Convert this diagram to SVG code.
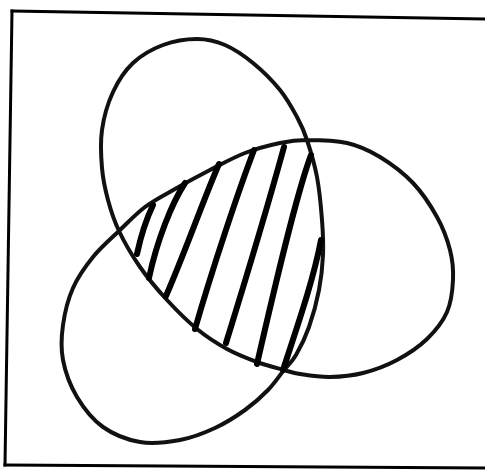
<svg xmlns="http://www.w3.org/2000/svg" width="485" height="472" viewBox="0 0 485 472">
  <style>
    .frame { fill: none; stroke: #000; stroke-width: 3; stroke-linecap: square; }
    .knot { fill: none; stroke: #111; stroke-width: 4; stroke-linejoin: round; }
    .hatch { fill: none; stroke: #000; stroke-width: 6; stroke-linecap: round; }
  </style>
  <rect x="0" y="0" width="485" height="472" fill="#fff"/>
  <g id="frame">
    <path class="frame" d="M12,11 L485,19"/>
    <path class="frame" d="M12,11 L5,465"/>
    <path class="frame" d="M5,465 L485,468"/>
  </g>
  <g id="trefoil">
    <path class="knot" d="M119,231 C113.7,219.8 110.8,210.5 108,200 S103,179.7 102,168 S100.2,142.7 102,130 S107.8,103.2 113,92 S124.7,70.8 133,63 S152.3,49 163,45 S186.7,39 197,39 S215.7,41 225,45 S243.8,55.5 253,63 S272.7,81 280,90 S292.5,108.7 297,117 S303.7,130 307,140 S314.5,163.7 317,177 S321,207 322,220 S323.5,243.3 323,255 S321.3,278 319,290 S312.8,316.2 309,327 S300.2,347.8 296,355 S288.7,364.2 284,370 S274.5,383.3 268,390 S253.8,403.7 245,410 S225.8,423 215,428 S192.5,437.7 180,440 S152.8,444.2 140,442 S113.5,434.5 103,427 S83.7,408.2 77,397 S65.3,372 63,360 S61.3,337 63,325 S68,299.3 73,288 S85.3,266.5 93,257 S110.3,239.3 119,231 S135.7,214 145,207 S164.2,195.2 175,189 S198.3,176 210,170 S233.3,157.5 245,153 S269.7,145.2 280,143 S295.8,140 307,140 S334.8,140.2 347,143 S369,150.3 380,157 S403.5,173 413,183 S430.8,205.8 437,217 S447.3,239.5 450,250 S453.5,269.7 453,280 S451.3,302.2 447,312 S435.3,331 427,339 S407.7,354.3 397,360 S374.2,370.2 363,373 S340.5,376.8 330,377 S307.7,375.2 300,374 S291.2,372 284,370 S266.5,365.5 257,362 S237,354.5 227,349 S207,337.2 197,329 S176.5,310.3 167,300 S148,278.5 140,267 S124.3,242.2 119,231 Z"/>
  </g>
  <g id="hatching">
    <path class="hatch" d="M153,205 Q143,226 137,254"/>
    <path class="hatch" d="M185,183 C172,203 157,240 149,278"/>
    <path class="hatch" d="M219,164 C204,198 186,250 166,296"/>
    <path class="hatch" d="M254,150 C238,192 212,270 195,329"/>
    <path class="hatch" d="M284,147 C270,198 248,272 226,343"/>
    <path class="hatch" d="M311,155 C296,195 274,290 257,364"/>
    <path class="hatch" d="M321,240 C313,282 296,330 283,370"/>
  </g>
</svg>
